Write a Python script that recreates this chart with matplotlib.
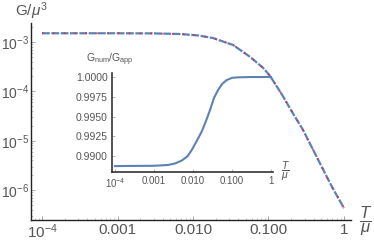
import matplotlib
matplotlib.use('Agg')
import matplotlib.pyplot as plt
from matplotlib.ticker import FixedLocator, LogLocator, NullFormatter

# main curve G/mu^3 vs T/mu
t_main = [1e-4, 3e-4, 1e-3, 0.003, 0.0067, 0.012, 0.0184, 0.0339, 0.0569,
          0.0845, 0.105, 0.15, 0.2, 0.286, 0.5, 0.7, 1.0]
g_main = [1.5e-3, 1.5e-3, 1.5e-3, 1.49e-3, 1.45e-3, 1.35e-3, 1.2e-3, 8.7e-4, 5.0e-4,
          3.0e-4, 2.05e-4, 8.7e-5, 4.1e-5, 1.66e-5, 3.1e-6, 1.13e-6, 4.3e-7]

# inset: G_num / G_app
t_ratio = [1e-4, 1e-3, 0.0023, 0.00345, 0.0051, 0.0072, 0.0093, 0.01245, 0.0167, 0.0215,
           0.0273, 0.0345, 0.0438, 0.0555, 0.0731, 0.101, 0.1426, 0.3, 1.0]
ratio = [0.98872, 0.98876, 0.98886, 0.98905, 0.98941, 0.98995, 0.99076, 0.99190, 0.99308,
         0.99443, 0.99582, 0.99734, 0.99835, 0.99911, 0.99962, 0.99990, 0.99996, 1.0, 1.0]

x_ticks = [1e-4, 1e-3, 1e-2, 1e-1, 1]
x_labels = [r'$10^{-4}$', '0.001', '0.010', '0.100', '1']
y_ticks = [1e-6, 1e-5, 1e-4, 1e-3]
y_labels = [r'$10^{-6}$', r'$10^{-5}$', r'$10^{-4}$', r'$10^{-3}$']
r_ticks = [0.9900, 0.9925, 0.9950, 0.9975, 1.0000]

blue = '#5E81B5'
red = '#E8202A'
tick_col = '#555555'

plt.rcParams['font.family'] = 'Liberation Sans'
plt.rcParams['mathtext.fontset'] = 'custom'
plt.rcParams['mathtext.rm'] = 'Liberation Sans'
plt.rcParams['mathtext.it'] = 'Liberation Sans:italic'

fig = plt.figure(figsize=(3.74, 2.43), dpi=100)
ax = fig.add_axes([31/374, 23/243, 320/374, 197/243])
ax.plot(t_main, g_main, color=blue, lw=1.6, dashes=(3.5, 0.7))
ax.plot(t_main, g_main, color=red, lw=1.2, dashes=(1, 5.5), alpha=0.85)
ax.set_xscale('log')
ax.set_yscale('log')
ax.set_xlim(10**-4.146, 10**0.093)
ax.set_ylim(10**-6.606, 10**-2.616)
ax.set_xticks(x_ticks)
ax.set_xticklabels(x_labels)
ax.set_yticks(y_ticks)
ax.set_yticklabels(y_labels)
ax.xaxis.set_minor_locator(LogLocator(base=10, subs=range(2, 10)))
ax.yaxis.set_minor_locator(LogLocator(base=10, subs=range(2, 10)))
ax.xaxis.set_minor_formatter(NullFormatter())
ax.yaxis.set_minor_formatter(NullFormatter())
ax.tick_params(which='major', direction='in', length=3, width=0.6, color='#999999',
               labelsize=11, labelcolor=tick_col, pad=2)
ax.tick_params(axis='y', which='major', labelsize=10, pad=1.5)
ax.tick_params(which='minor', direction='in', length=1.5, width=0.5, color='#aaaaaa')
for s in ['top', 'right']:
    ax.spines[s].set_visible(False)
for s in ['left', 'bottom']:
    ax.spines[s].set_color('#222222')
    ax.spines[s].set_linewidth(1.0)
fig.text(31/374, 1 - 11/243, r'G/$\mu^3$', fontsize=11, color=tick_col, ha='center', va='center')
fig.text(366/374, 1 - 221/243, r'$\dfrac{T}{\mu}$', fontsize=12, color=tick_col, ha='center', va='center')

# inset
ai = fig.add_axes([112/374, (243-172)/243, 161/374, 99/243])
ai.plot(t_ratio, ratio, color=blue, lw=1.5)
ai.set_xscale('log')
ai.set_xlim(10**-4.077, 10**0.051)
ai.set_ylim(0.98797, 1.00051)
ai.set_xticks(x_ticks)
ai.set_xticklabels(x_labels)
ai.set_yticks(r_ticks)
ai.set_yticklabels(['%.4f' % v for v in r_ticks])
ai.xaxis.set_minor_locator(FixedLocator([]))
ai.tick_params(which='major', direction='in', length=2, width=0.5, color='#999999',
               labelsize=7.5, labelcolor=tick_col, pad=3)
ai.tick_params(axis='x', labelsize=7)
ai.patch.set_alpha(0)
for s in ['top', 'right']:
    ai.spines[s].set_visible(False)
for s in ['left', 'bottom']:
    ai.spines[s].set_color('#333333')
    ai.spines[s].set_linewidth(1.2)
fig.text(110/374, 1 - 60/243, r'G$_{\rm num}$/G$_{\rm app}$', fontsize=7.5, color=tick_col,
         ha='center', va='center')
fig.text(286/374, 1 - 171/243, r'$\dfrac{T}{\mu}$', fontsize=7.5, color=tick_col, ha='center', va='center')

fig.savefig('out.png', dpi=100)
